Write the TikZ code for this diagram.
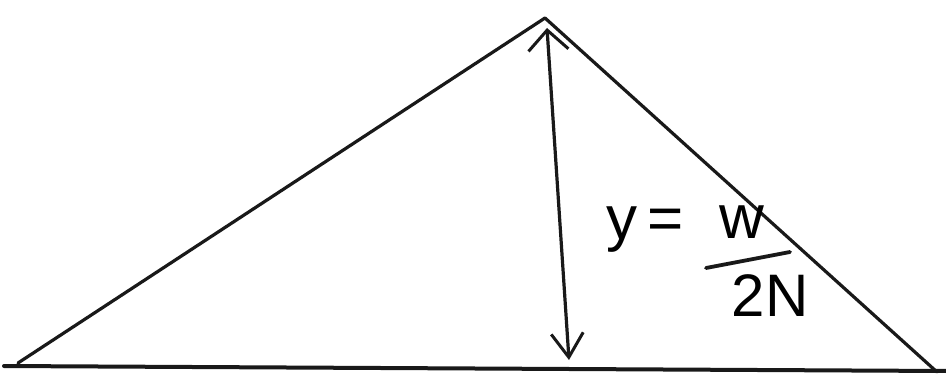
\documentclass[tikz,border=0pt]{standalone}
\usepackage{fontspec}
\setmainfont{Liberation Sans}
\usetikzlibrary{arrows.meta}
\begin{document}
\begin{tikzpicture}[x=1pt,y=-1pt,
  edge/.style={line width=3.2pt,black!90,line cap=round,line join=round},
  dim/.style={line width=3.2pt,black!90,{Straight Barb[length=24pt,width=32pt,line width=3pt]}-{Straight Barb[length=20pt,width=40pt,line width=3pt]}},
  lab/.style={inner sep=0pt,font=\fontsize{62}{64}\selectfont}]
\useasboundingbox (0,0) rectangle (946,385);
\coordinate (L) at (18,363);
\coordinate (T) at (545,18);
\coordinate (R) at (937,372);
\coordinate (B0) at (4,366);
\coordinate (B1) at (946,371);
\coordinate (AT) at (547,28);
\coordinate (AB) at (569,360);
\coordinate (F0) at (706,268);
\coordinate (F1) at (790,252);
\draw[edge] (L) -- (T) -- (R);
\draw[edge,line width=4pt] (B0) -- (B1);
\draw[dim] (AB) -- (AT);
\node[lab] (yeq) at (645,230) {y\,=};
\node[lab] (w) at (742,222) {w};
\draw[edge,line width=3.8pt] (F0) -- (F1);
\node[lab,font=\fontsize{60}{62}\selectfont] (den) at (770,296) {2N};
\end{tikzpicture}
\end{document}
